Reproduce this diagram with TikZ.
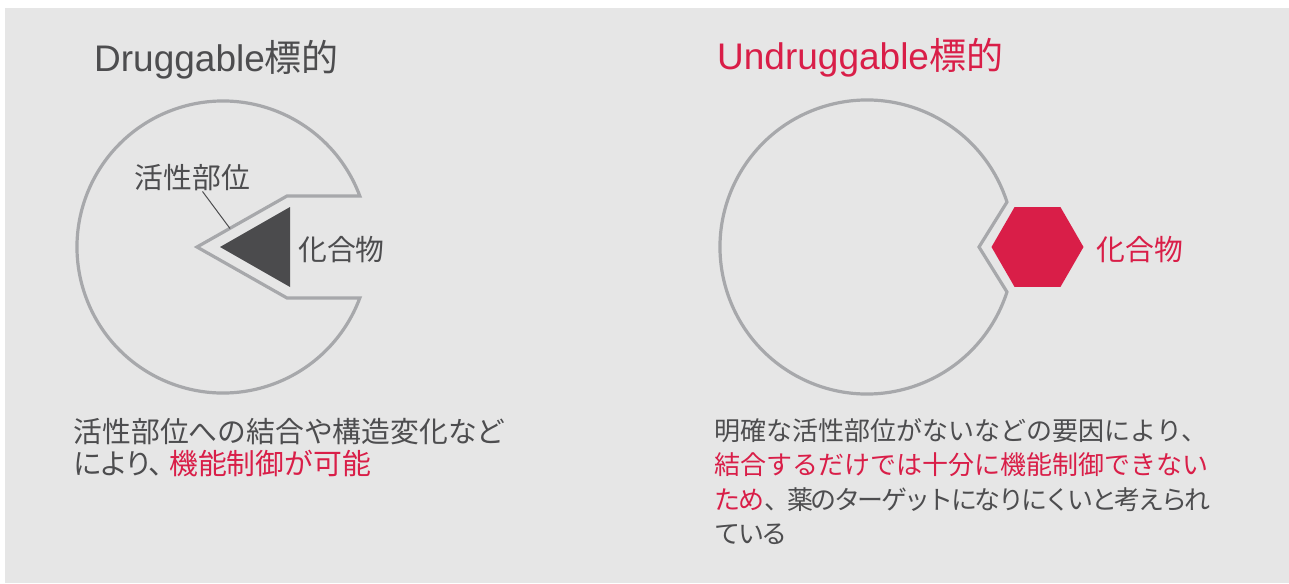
\documentclass[tikz,border=0pt]{standalone}
\usepackage{fontspec}
\setmainfont{Liberation Sans}
\newfontfamily\jp{Noto Sans CJK JP}
\newfontfamily\jpprop[RawFeature=+palt]{Noto Sans CJK JP}
\newfontfamily\jptight[LetterSpace=-10]{Noto Sans CJK JP}
\definecolor{bggray}{HTML}{E6E6E6}
\definecolor{ringgray}{HTML}{A7A8AB}
\definecolor{txtgray}{HTML}{4D4D4F}
\definecolor{drugred}{HTML}{D91E48}
\definecolor{ligand}{HTML}{4B4B4D}
\begin{document}
\begin{tikzpicture}[x=1pt, y=1pt,
    ring/.style={draw=ringgray, line width=3.2pt, line join=miter},
    title/.style={inner sep=0, anchor=base west, font=\fontsize{37}{40}\selectfont},
    lbl/.style={inner sep=0, font=\jp\fontsize{28.8}{32}\selectfont},
    body/.style={inner sep=0, anchor=base west, text=txtgray}]
    \useasboundingbox (0,0) rectangle (1289,-583);
    \fill[white] (0,0) rectangle (1289,-583);
    \fill[bggray] (5,-8) rectangle (1289,-583);
    
    % druggable
    \node[title, text=txtgray] (dtitle) at (94,-72) {Druggable{\jp 標的}};
    \draw[ring] (223,-247) ++(20.45:146) arc (20.45:339.55:146) -- (287,-298) -- (197,-247) -- (287,-196) -- cycle;
    \fill[ligand] (220,-247) -- (290,-207) -- (290,-287) -- cycle;
    \node[lbl, text=txtgray] (dsite) at (192.5,-178) {活性部位};
    \coordinate (dpocket) at (230,-228.5);
    \draw[txtgray, line width=1pt] (dsite) -- (dpocket);
    \node[lbl, text=txtgray] (dcomp) at (341.5,-250) {化合物};
    
    % undruggable
    \node[title, text=drugred] (utitle) at (717,-70) {Undruggable{\jp 標的}};
    \draw[ring] (867,-247) ++(17.8:147) arc (17.8:342.2:147) -- (979,-247) -- cycle;
    \fill[drugred] (1037.5,-247) +(0:46) -- +(60:46) -- +(120:46) -- +(180:46) -- +(240:46) -- +(300:46) -- cycle;
    \node[lbl, text=drugred] (ucomp) at (1140,-250) {化合物};
    
    \node[body, font=\jp\fontsize{28.8}{32}\selectfont] (dnote1) at (73.5,-442.7) {活性部位への結合や構造変化など};
    \node[body, font=\jp\fontsize{28.8}{32}\selectfont] (dnote2) at (73.5,-474.3) {{\jpprop により、}\kern6pt\textcolor{drugred}{機能制御が可能}};
    
    \node[body, font=\jp\fontsize{26}{30}\selectfont] (unote1) at (714.5,-440) {明確な活性部位がないなどの要因により、};
    \node[body, font=\jp\fontsize{26}{30}\selectfont] (unote2) at (714.5,-474.5) {\textcolor{drugred}{結合するだけでは十分に機能制御できない}};
    \node[body, font=\jp\fontsize{26}{30}\selectfont] (unote3) at (714.5,-509) {\jptight\textcolor{drugred}{ため}、薬のターゲットになりにくいと考えられ};
    \node[body, font=\jp\fontsize{26}{30}\selectfont] (unote4) at (714.5,-543.5) {\jptight ている};
    
\end{tikzpicture}
\end{document}
